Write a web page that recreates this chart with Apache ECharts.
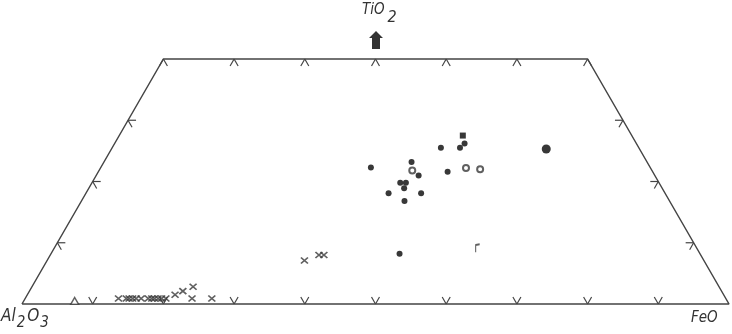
<!DOCTYPE html>
<html>
<head>
<meta charset="utf-8">
<script src="https://cdn.jsdelivr.net/npm/echarts@6/dist/echarts.min.js"></script>
<style>html,body{margin:0;padding:0;background:#fff}#c{width:732px;height:334px}</style>
</head>
<body>
<div id="c"></div>
<script>
// Ternary compositions: [FeO %, TiO2 %] (Al2O3 = remainder)
const corners = [[0, 0], [100, 0], [60, 40], [0, 40], [0, 0]];
const baseTicks = [10, 20, 30, 40, 50, 60, 70, 80, 90];   // FeO % along base
const topTicks = [0, 10, 20, 30, 40, 50, 60];             // FeO % along TiO2=40 edge
const sideTicks = [10, 20, 30];                           // TiO2 %
const filledCircles = [[38.2, 22.3], [43.5, 23.2], [45.6, 21.0], [43.6, 19.8], [44.4, 19.8],
  [44.6, 18.9], [42.8, 18.1], [47.4, 18.1], [45.7, 16.8], [46.5, 25.5], [49.4, 21.6],
  [49.2, 25.5], [49.5, 26.2], [49.3, 8.2]];
const squares = [[48.6, 27.5]];
const openCircles = [[44.3, 21.8], [51.7, 22.2], [53.8, 22.0]];
const bigPoints = [[61.5, 25.3]];
const oddMarks = [[59.9, 9.1]];
const crosses = [[36.4, 7.1], [38.0, 8.0], [38.7, 8.0],
  [13.2, 0.9], [14.3, 0.9], [14.7, 0.9], [15.2, 0.9], [15.7, 0.9], [16.4, 0.9], [17.4, 0.9],
  [17.9, 0.9], [18.3, 0.9], [18.8, 0.9], [19.3, 0.9], [19.9, 0.9], [20.9, 1.5], [21.7, 2.1],
  [22.8, 2.8], [23.6, 0.9], [26.4, 0.9]];
const triangles = [[7.2, 0.5]];

// ternary -> cartesian (x: base position 0..100, y: TiO2 %)
const toXY = p => [p[0] + p[1] / 2, p[1]];
const MARK = '#383838';
const LINE = '#444';
const FONT = 'DejaVu Sans Condensed, DejaVu Sans';

const tickData = [];
baseTicks.forEach(f => tickData.push(['b', f + 0, 0]));
topTicks.forEach(f => tickData.push(['t', f + 20, 40]));
sideTicks.forEach(t => tickData.push(['l', t / 2, t]));
sideTicks.forEach(t => tickData.push(['r', 100 - t / 2, t]));

const L = 8;
const dirs = {
  b: [[0.5, -0.866], [-0.5, -0.866]],
  t: [[0.5, 0.866], [-0.5, 0.866]],
  l: [[1, 0], [0.5, 0.866]],
  r: [[-1, 0], [-0.5, 0.866]]
};

function scatter(data, opt) {
  return Object.assign({
    type: 'scatter', data: data.map(toXY), silent: true, clip: false,
    itemStyle: { color: MARK, opacity: 1 }
  }, opt);
}

const chart = echarts.init(document.getElementById('c'), null, { renderer: 'canvas' });
chart.setOption({
  animation: false,
  backgroundColor: '#fff',
  grid: { left: 22, right: 3, top: 59, bottom: 30 },
  xAxis: { type: 'value', min: 0, max: 100, show: false },
  yAxis: { type: 'value', min: 0, max: 40, show: false },
  graphic: [
    { type: 'text', left: 362, top: 3, style: {
      text: '{a|TiO}{b|2}', rich: {
        a: { fontSize: 15, fontStyle: 'italic', fontFamily: FONT, fill: '#333', padding: [0, 0, 7, 0] },
        b: { fontSize: 16, fontStyle: 'italic', fontFamily: FONT, fill: '#333', padding: [8, 0, 0, 3] } } } },
    { type: 'polygon', shape: { points: [[376, 31], [383, 38], [380, 38], [380, 49], [372, 49], [372, 38], [369, 38]] },
      style: { fill: '#333' } },
    { type: 'text', left: 1, top: 308, style: {
      text: '{a|Al}{b|2}{a|O}{b|3}', rich: {
        a: { fontSize: 17, fontStyle: 'italic', fontFamily: FONT, fill: '#333', padding: [0, 0, 6, 0] },
        b: { fontSize: 15, fontStyle: 'italic', fontFamily: FONT, fill: '#333', padding: [8, 2, 0, 1] } } } },
    { type: 'text', left: 691, top: 311, style: {
      text: 'FeO', fontSize: 15, fontStyle: 'italic', fontFamily: FONT, fill: '#333' } }
  ],
  series: [
    { type: 'line', data: corners.map(toXY), symbol: 'none', silent: true, clip: false,
      lineStyle: { color: LINE, width: 1.5 }, z: 1 },
    { type: 'custom', data: tickData, silent: true, clip: false, z: 1,
      encode: { x: 1, y: 2 },
      renderItem: function (params, api) {
        const side = api.value(0);
        const p = api.coord([api.value(1), api.value(2)]);
        const d = dirs[side];
        return { type: 'group', children: d.map(v => ({
          type: 'line', shape: { x1: p[0], y1: p[1], x2: p[0] + v[0] * L, y2: p[1] + v[1] * L },
          style: { stroke: LINE, lineWidth: 1.2 } })) };
      } },
    scatter(filledCircles, { symbol: 'circle', symbolSize: 6 }),
    scatter(squares, { symbol: 'rect', symbolSize: 6 }),
    scatter(openCircles, { symbol: 'circle', symbolSize: 6,
      itemStyle: { color: '#fff', borderColor: MARK, borderWidth: 2 } }),
    scatter(bigPoints, { symbol: 'circle', symbolSize: 9 }),
    scatter(oddMarks, { symbol: 'path://M2,0L2,10M2,1L6,0', symbolSize: [4, 8],
      itemStyle: { color: 'none', borderColor: MARK, borderWidth: 1.5 } }),
    scatter(crosses, { symbol: 'path://M0,0L10,10M10,0L0,10', symbolSize: [7, 6],
      itemStyle: { color: 'none', borderColor: MARK, borderWidth: 1.6 } }),
    scatter(triangles, { symbol: 'triangle', symbolSize: [8, 7],
      itemStyle: { color: '#fff', borderColor: MARK, borderWidth: 1.4 }, z: 3 })
  ]
});
</script>
</body>
</html>
